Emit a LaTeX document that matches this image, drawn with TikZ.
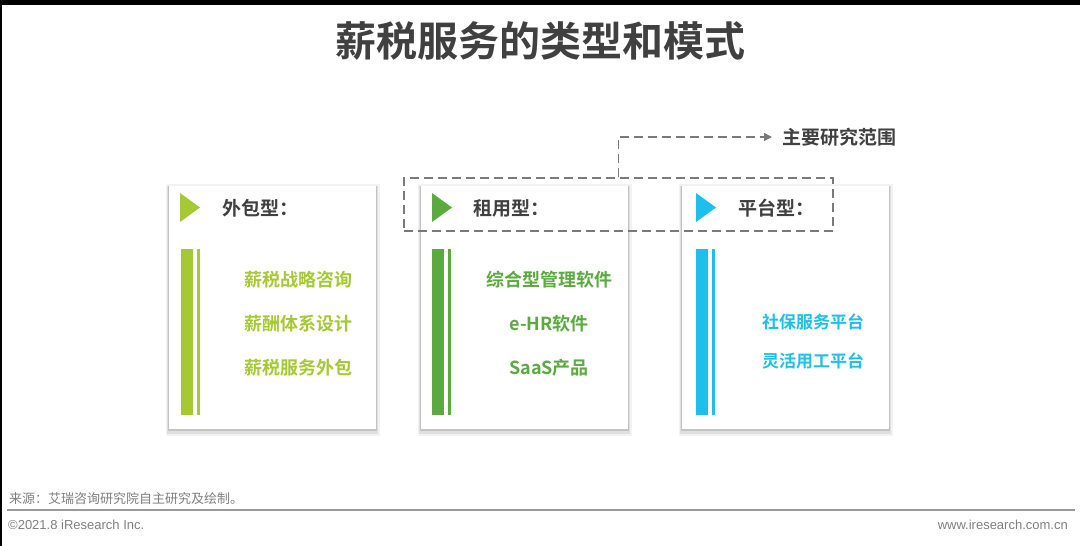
\documentclass[tikz,border=0pt]{standalone}
\usepackage{fontspec}
\setmainfont{Liberation Sans}
\newfontfamily\cjk{Noto Sans CJK SC}[BoldFont={Noto Sans CJK SC Bold}]
\usepackage{tikz}
\usetikzlibrary{arrows.meta}
\usetikzlibrary{positioning, shadows}

\definecolor{titlegray}{HTML}{404040}
\definecolor{dashgray}{HTML}{7A7A7A}
\definecolor{footgray}{HTML}{808080}
\definecolor{limegreen}{HTML}{A5C934}
\definecolor{leafgreen}{HTML}{5BAA3F}
\definecolor{skyblue}{HTML}{1DBFED}

\tikzset{
    card/.style={fill=white, minimum width=207pt, minimum height=243pt, inner sep=0pt, anchor=north west,
        drop shadow={shadow xshift=0pt, shadow yshift=-2pt, shadow scale=1.035, fill=black, opacity=.05},
        drop shadow={shadow xshift=0pt, shadow yshift=-2pt, shadow scale=1.022, fill=black, opacity=.08},
        drop shadow={shadow xshift=0pt, shadow yshift=-1pt, shadow scale=1.01, fill=black, opacity=.12}},
    head/.style={font=\cjk\bfseries\fontsize{19}{19}\selectfont, text=titlegray, inner sep=0pt, anchor=west},
    item/.style={font=\cjk\bfseries\fontsize{18}{18}\selectfont, inner sep=0pt},
    foot/.style={font=\fontsize{13}{13}\selectfont, text=footgray, inner sep=0pt},
    conn/.style={draw=dashgray, line width=1.6pt, dash pattern=on 9pt off 5pt},
}

\begin{document}
\begin{tikzpicture}[x=1pt, y=-1pt]
    \useasboundingbox (0,0) rectangle (1080,546);
    \fill[white] (0,0) rectangle (1080,546);
    \fill[black] (0,0) rectangle (1080,5);   % screen edge
    \fill[black] (0,0) rectangle (2,546);

    \node[font=\cjk\bfseries\fontsize{41}{41}\selectfont, text=titlegray] (title) at (540,41) {薪税服务的类型和模式};

    % three cards
    \node[card] (waibao) at (169,186) {};
    \node[card] (zuyong) at (421,186) {};
    \node[card] (pingtai) at (682,186) {};

    % card 1
    \fill[limegreen] ([shift={(11,7)}]waibao.north west) -- ++(20,14.5) -- ++(-20,14.5) -- cycle;
    \node[head] (waibaohead) at ([shift={(53,22)}]waibao.north west) {外包型：};
    \fill[limegreen] ([shift={(12,63)}]waibao.north west) rectangle ++(12,166);
    \fill[limegreen] ([shift={(28,63)}]waibao.north west) rectangle ++(3,166);
    \node[item, text=limegreen] (w1) at ([shift={(129,94)}]waibao.north west) {薪税战略咨询};
    \node[item, text=limegreen, below=44pt of w1.center, anchor=center] (w2) {薪酬体系设计};
    \node[item, text=limegreen, below=44pt of w2.center, anchor=center] (w3) {薪税服务外包};

    % card 2
    \fill[leafgreen] ([shift={(11,7)}]zuyong.north west) -- ++(20,14.5) -- ++(-20,14.5) -- cycle;
    \node[head] (zuyonghead) at ([shift={(52,22)}]zuyong.north west) {租用型：};
    \fill[leafgreen] ([shift={(11,63)}]zuyong.north west) rectangle ++(12,166);
    \fill[leafgreen] ([shift={(27,63)}]zuyong.north west) rectangle ++(3,166);
    \node[item, text=leafgreen] (z1) at ([shift={(128,94)}]zuyong.north west) {综合型管理软件};
    \node[item, text=leafgreen, below=44pt of z1.center, anchor=center] (z2) {e-HR软件};
    \node[item, text=leafgreen, below=44pt of z2.center, anchor=center] (z3) {SaaS产品};

    % card 3
    \fill[skyblue] ([shift={(14,7)}]pingtai.north west) -- ++(20,14.5) -- ++(-20,14.5) -- cycle;
    \node[head] (pingtaihead) at ([shift={(56,22)}]pingtai.north west) {平台型：};
    \fill[skyblue] ([shift={(14,63)}]pingtai.north west) rectangle ++(12,166);
    \fill[skyblue] ([shift={(30,63)}]pingtai.north west) rectangle ++(3,166);
    \node[item, text=skyblue, font=\cjk\bfseries\fontsize{17}{17}\selectfont] (p1) at ([shift={(131,136)}]pingtai.north west) {社保服务平台};
    \node[item, text=skyblue, font=\cjk\bfseries\fontsize{17}{17}\selectfont, below=39pt of p1.center, anchor=center] (p2) {灵活用工平台};

    % main research scope
    \node[conn, minimum width=429pt, minimum height=53pt, inner sep=0pt, anchor=north west] (fanwei) at (403,177) {};
    \node[head, font=\cjk\bfseries\fontsize{19}{19}\selectfont] (zhuyao) at (782,137) {主要研究范围};
    \draw[conn, -{Triangle[length=8pt, width=8pt]}] (fanwei.north) |- ([xshift=-10pt]zhuyao.west);

    % footer
    \node[foot, font=\cjk\fontsize{13}{13}\selectfont, anchor=west] (laiyuan) at (9,499) {来源：艾瑞咨询研究院自主研究及绘制。};
    \coordinate (ruleleft) at (7,510);
    \coordinate (ruleright) at (1075,510);
    \draw[footgray!80, line width=2pt] (ruleleft) -- (ruleright);
    \node[foot, anchor=west] (copyright) at (8,525) {©2021.8 iResearch Inc.};
    \node[foot, anchor=east] (website) at (1068,525) {www.iresearch.com.cn};
\end{tikzpicture}
\end{document}
